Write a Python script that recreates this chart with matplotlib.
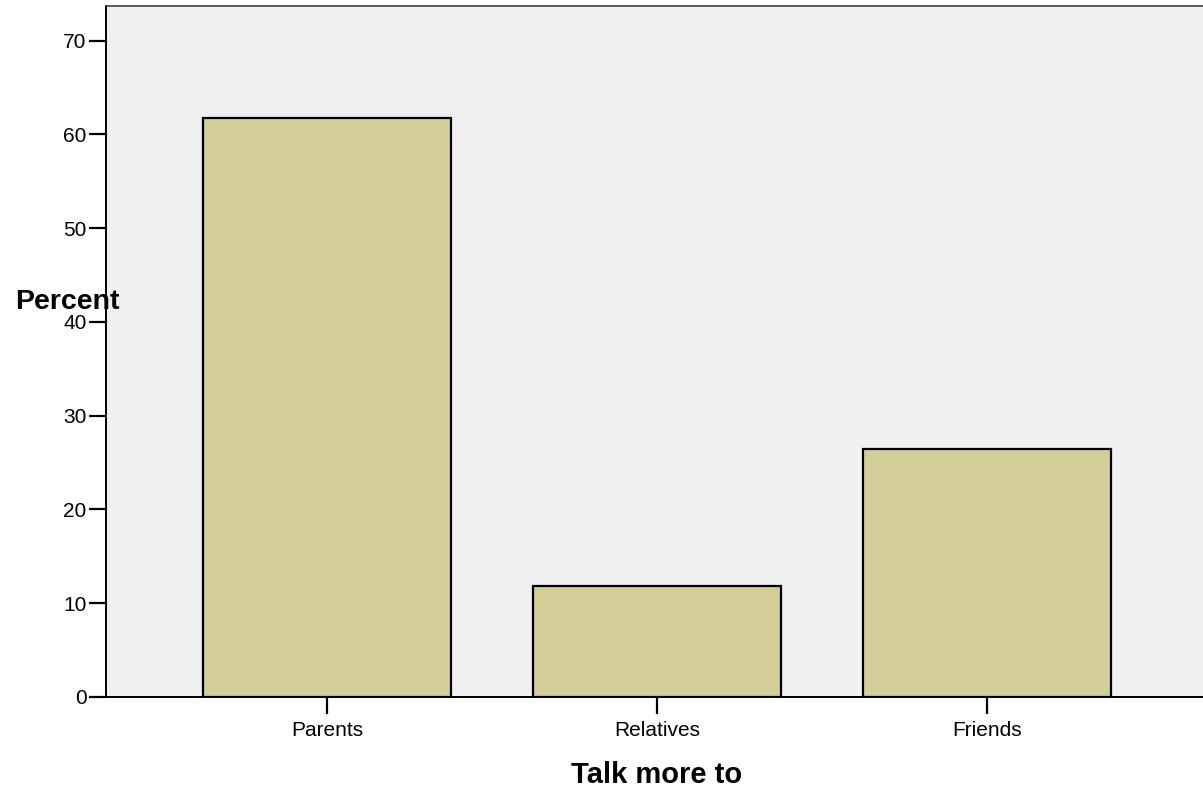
import matplotlib.pyplot as plt

categories = ["Parents", "Relatives", "Friends"]
percents = [61.8, 11.8, 26.5]
yticks = [0, 10, 20, 30, 40, 50, 60, 70]

plt.rcParams['font.family'] = ['Liberation Sans', 'DejaVu Sans']

fig = plt.figure(figsize=(12.03, 7.95), dpi=100)
ax = fig.add_axes([106 / 1203, 98 / 795, 1102 / 1203, 691 / 795])
ax.set_facecolor("#f0f0f0")

x = range(len(categories))
ax.bar(x, percents, width=0.75, color="#d3ce97", edgecolor="black", linewidth=1.6, zorder=3)

ax.set_xlim(-0.67, 2.67)
ax.set_ylim(0, 73.7)
ax.set_xticks(list(x))
ax.set_xticklabels(categories, fontsize=15)
ax.set_yticks(yticks)
ax.set_yticklabels([str(t) for t in yticks], fontsize=15)
ax.tick_params(axis='y', direction='out', length=12, width=1.6, pad=2)
ax.tick_params(axis='x', direction='out', length=12, width=1.6, pad=5)

ax.spines['right'].set_visible(False)
ax.spines['top'].set_color("#404040")
ax.spines['top'].set_linewidth(1.2)
ax.spines['left'].set_linewidth(1.4)
ax.spines['bottom'].set_linewidth(1.4)

fig.text(67 / 1203, 1 - 302 / 795, "Percent", fontsize=20.5, fontweight='bold',
         ha='center', va='center', zorder=10)
fig.text(657 / 1203, 1 - 775 / 795, "Talk more to", fontsize=21, fontweight='bold',
         ha='center', va='center')

fig.savefig("out.png", dpi=100)
